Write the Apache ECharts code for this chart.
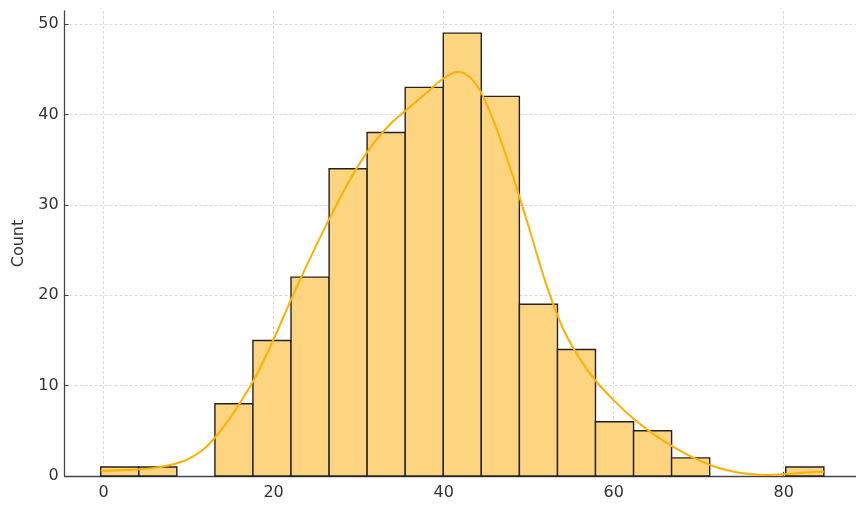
<!DOCTYPE html>
<html>
<head>
<meta charset="utf-8">
<script src="https://cdn.jsdelivr.net/npm/echarts@6/dist/echarts.min.js"></script>
<style>
html,body{margin:0;padding:0;background:#fff;}
#chart{width:856px;height:513px;}
</style>
</head>
<body>
<div id="chart"></div>
<script>
// Histogram bin edges (20 edges -> 19 bins)
const binEdges = [-0.33, 4.15, 8.62, 13.10, 17.57, 22.05, 26.53, 31.00, 35.48, 39.96,
                  44.43, 48.91, 53.39, 57.86, 62.34, 66.81, 71.29, 75.77, 80.24, 84.72];
// Counts per bin
const counts = [1, 1, 0, 8, 15, 22, 34, 38, 43, 49, 42, 19, 14, 6, 5, 2, 0, 0, 1];
// KDE curve (scaled to counts)
const kdeX = [-0.33, 2, 4, 6, 8, 10, 12, 14, 16, 18, 20, 22, 24, 26, 28, 30, 32, 34, 36, 38,
              40, 42, 44, 46, 48, 50, 52, 54, 56, 58, 60, 62, 64, 66, 68, 70, 72, 74, 76, 78,
              80, 82, 84, 84.72];
const kdeY = [0.58, 0.63, 0.72, 0.9, 1.25, 1.9, 3.15, 5.3, 8.0, 11.2, 15.1, 19.4, 23.5, 27.4,
              31.1, 34.4, 37.1, 39.2, 40.8, 42.4, 44.0, 44.7, 43.1, 39.0, 33.6, 27.6, 21.4,
              16.4, 13.0, 10.4, 8.4, 6.6, 5.1, 3.8, 2.7, 1.75, 1.0, 0.5, 0.22, 0.12, 0.18,
              0.33, 0.46, 0.48];
// Tick labels
const xTicks = [0, 20, 40, 60, 80];
const yTicks = [0, 10, 20, 30, 40, 50];
const yLabel = 'Count';

const barData = counts.map((c, i) => [binEdges[i], binEdges[i + 1], c]);
const kdeData = kdeX.map((x, i) => [x, kdeY[i]]);

const font = 'DejaVu Sans';
const chart = echarts.init(document.getElementById('chart'), null, {renderer: 'canvas'});

// Smooth KDE curve: Catmull-Rom spline through the library-mapped points
function renderKde(params, api) {
  if (params.dataIndex !== 0) return null;
  const pts = kdeData.map(d => api.coord(d));
  const n = pts.length;
  let d = 'M' + pts[0][0] + ' ' + pts[0][1];
  for (let i = 0; i < n - 1; i++) {
    const p0 = pts[Math.max(i - 1, 0)], p1 = pts[i], p2 = pts[i + 1], p3 = pts[Math.min(i + 2, n - 1)];
    const c1x = p1[0] + (p2[0] - p0[0]) / 6, c1y = p1[1] + (p2[1] - p0[1]) / 6;
    const c2x = p2[0] - (p3[0] - p1[0]) / 6, c2y = p2[1] - (p3[1] - p1[1]) / 6;
    d += ' C' + c1x + ' ' + c1y + ' ' + c2x + ' ' + c2y + ' ' + p2[0] + ' ' + p2[1];
  }
  return {
    type: 'path',
    shape: {pathData: d},
    style: {fill: null, stroke: '#ffb000', lineWidth: 2}
  };
}

chart.setOption({
  animation: false,
  backgroundColor: '#ffffff',
  grid: {left: 64.6, right: 0, top: 11, bottom: 37, containLabel: false},
  xAxis: {
    type: 'value',
    min: -4.58,
    max: 88.5,
    axisLine: {show: true, onZero: false, lineStyle: {color: '#444', width: 1.3}},
    axisTick: {show: true, inside: true, length: 4, customValues: xTicks, lineStyle: {color: '#444', width: 1}},
    axisLabel: {customValues: xTicks, margin: 9, fontFamily: font, fontSize: 16, color: '#333'},
    splitLine: {show: true, lineStyle: {color: '#d0d0d0', width: 0.8, type: [3, 2]}}
  },
  yAxis: {
    type: 'value',
    min: 0,
    max: 51.45,
    name: yLabel,
    nameLocation: 'middle',
    nameGap: 37,
    nameRotate: 90,
    nameTextStyle: {fontFamily: font, fontSize: 16, color: '#333'},
    axisLine: {show: true, onZero: false, lineStyle: {color: '#444', width: 1.3}},
    axisTick: {show: true, inside: true, length: 4, customValues: yTicks, lineStyle: {color: '#444', width: 1}},
    axisLabel: {customValues: yTicks, margin: 6, fontFamily: font, fontSize: 16, color: '#333'},
    splitLine: {show: true, lineStyle: {color: '#d0d0d0', width: 0.8, type: [3, 2]}}
  },
  series: [
    {
      type: 'custom',
      data: barData,
      encode: {x: [0, 1], y: 2},
      z: 2,
      renderItem: function (params, api) {
        const h = api.value(2);
        if (!h) return null;
        const p0 = api.coord([api.value(0), h]);
        const p1 = api.coord([api.value(1), 0]);
        return {
          type: 'rect',
          shape: {x: p0[0], y: p0[1], width: p1[0] - p0[0], height: p1[1] - p0[1]},
          style: {fill: '#fdd581', stroke: '#222', lineWidth: 1.4}
        };
      }
    },
    {
      type: 'custom',
      data: kdeData,
      encode: {x: 0, y: 1},
      z: 3,
      renderItem: renderKde
    }
  ]
});
</script>
</body>
</html>
